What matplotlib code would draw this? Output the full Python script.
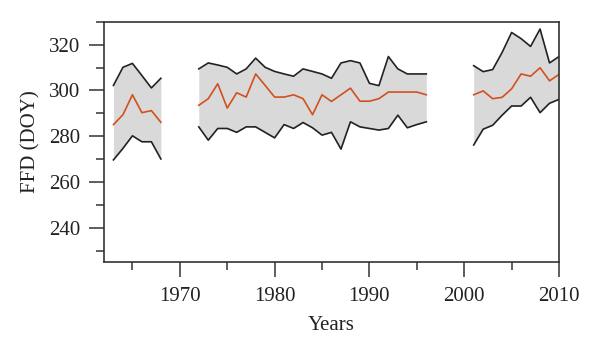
import numpy as np
import matplotlib
matplotlib.use("Agg")
import matplotlib.pyplot as plt
from matplotlib.ticker import MultipleLocator

# three observation periods (gaps in between)
years_a = [1963, 1964, 1965, 1966, 1967, 1968]
upper_a = [302.2, 310.1, 311.8, 306.5, 301.1, 305.3]
mean_a = [285.1, 289.4, 298.1, 290.3, 291.2, 286.1]
lower_a = [269.7, 274.7, 280.2, 277.6, 277.6, 270.1]

years_b = [1972, 1973, 1974, 1975, 1976, 1977, 1978, 1979, 1980, 1981, 1982, 1983, 1984,
           1985, 1986, 1987, 1988, 1989, 1990, 1991, 1992, 1993, 1994, 1995, 1996]
upper_b = [309.4, 312.0, 311.1, 310.1, 307.2, 309.4, 314.1, 310.1, 308.3, 307.2, 306.2, 309.4, 308.3,
           307.2, 305.3, 312.0, 313.0, 312.0, 303.1, 302.1, 314.8, 309.4, 307.2, 307.2, 307.2]
mean_b = [293.5, 296.4, 302.9, 292.3, 299.0, 297.1, 307.2, 302.2, 297.1, 297.1, 298.1, 296.4, 289.4,
          298.1, 295.2, 298.1, 301.0, 295.3, 295.3, 296.4, 299.3, 299.3, 299.3, 299.3, 298.1]
lower_b = [284.1, 278.3, 283.4, 283.4, 281.7, 284.1, 284.1, 281.7, 279.3, 285.1, 283.4, 286.0, 283.7,
           280.5, 281.7, 274.4, 286.3, 284.1, 283.4, 282.7, 283.4, 289.2, 283.7, 285.1, 286.3]

years_c = [2001, 2002, 2003, 2004, 2005, 2006, 2007, 2008, 2009, 2010]
upper_c = [310.8, 308.2, 309.1, 316.6, 325.3, 322.6, 319.2, 326.8, 312.0, 314.8]
mean_c = [298.1, 299.8, 296.4, 297.0, 300.7, 307.2, 306.2, 309.9, 304.2, 307.0]
lower_c = [276.2, 283.1, 284.8, 289.2, 293.2, 293.2, 297.0, 290.3, 294.4, 296.1]

plt.rcParams['font.family'] = ['Liberation Serif', 'DejaVu Serif']

fig = plt.figure(figsize=(6, 3.51), dpi=100)
ax = fig.add_axes([0.1733, 0.2527, 0.7584, 0.6855])

periods = [(years_a, lower_a, mean_a, upper_a),
           (years_b, lower_b, mean_b, upper_b),
           (years_c, lower_c, mean_c, upper_c)]
for yrs, lo, mid, hi in periods:
    ax.fill_between(yrs, lo, hi, color='#d9d9d9', lw=0)
    ax.plot(yrs, hi, color='#222222', lw=1.2)
    ax.plot(yrs, lo, color='#222222', lw=1.2)
    ax.plot(yrs, mid, color='#d2501e', lw=1.2)

ax.set_xlim(1962, 2010)
ax.set_ylim(225, 330)
ax.xaxis.set_major_locator(MultipleLocator(10))
ax.xaxis.set_minor_locator(MultipleLocator(5))
ax.yaxis.set_minor_locator(MultipleLocator(10))
ax.set_yticks([240, 260, 280, 300, 320])

for s in ax.spines.values():
    s.set_linewidth(1.2)
    s.set_color('#333333')
ax.tick_params(which='major', length=11, width=1.1, color='#333333', labelsize=15,
               labelcolor='#222222')
ax.tick_params(axis='x', which='major', pad=7)
ax.tick_params(axis='y', which='major', pad=6)
ax.tick_params(which='minor', length=6, width=1.1, color='#333333')
ax.tick_params(axis='x', which='both', top=False)
ax.tick_params(axis='y', which='both', right=False)

ax.set_xlabel('Years', fontsize=15, labelpad=7, color='#222222')
ax.set_ylabel('FFD (DOY)', fontsize=15, labelpad=6, color='#222222')

fig.savefig('out.png', dpi=100)
